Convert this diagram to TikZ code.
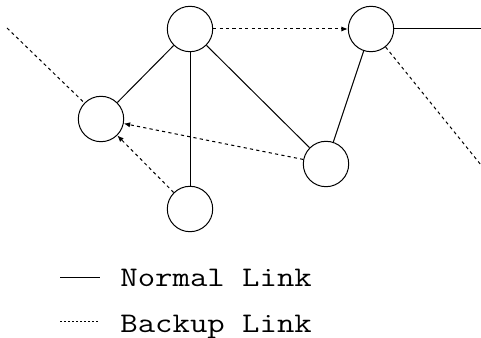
\documentclass[tikz,border=0pt]{standalone}
\usepackage{fontspec}
\newfontfamily\legendfont{Latin Modern Mono}[FakeStretch=1.19]
\usetikzlibrary{arrows.meta}

\begin{document}
\begin{tikzpicture}[
  x=0.5pt, y=0.5pt,
  router/.style={circle,draw,line width=0.5pt,minimum size=22.7pt,inner sep=0pt},
  normal/.style={line width=0.5pt},
  backup/.style={line width=0.5pt,dash pattern=on 1.6pt off 1.6pt},
  tip/.style={-{Latex[length=3.2pt,width=2.6pt]}},
  legend text/.style={anchor=base west,inner sep=0pt,font=\fontsize{14.2pt}{16pt}\legendfont}
]
  \useasboundingbox (0,0) rectangle (481,337);

  \node[router] (T) at (190,308) {};
  \node[router] (L) at (101,218) {};
  \node[router] (B) at (190,128) {};
  \node[router] (R) at (371,308) {};
  \node[router] (M) at (326,173) {};

  % links leaving the picture
  \coordinate (west) at (7,309);
  \coordinate (east) at (481,308);
  \coordinate (south east) at (481,172);

  % normal links
  \draw[normal] (L) -- (T);
  \draw[normal] (T) -- (B);
  \draw[normal] (T) -- (M);
  \draw[normal] (M) -- (R);
  \draw[normal] (R) -- (east);

  % backup links
  \draw[backup,tip] (T) -- (R);
  \draw[backup,tip] (M) -- (L);
  \draw[backup,tip] (B) -- (L);
  \draw[backup] (west) -- (L);
  \draw[backup] (R) -- (south east);

  % legend
  \coordinate (n1) at (60,60);
  \coordinate (n2) at (100,60);
  \coordinate (b1) at (60,16);
  \coordinate (b2) at (100,16);
  \draw[line width=0.4pt] (n1) -- (n2);
  \draw[line width=0.4pt,dash pattern=on 1pt off 1pt] (b1) -- (b2);
  \node[legend text] (normal label) at (120,51) {Normal Link};
  \node[legend text] (backup label) at (120,5) {Backup Link};
\end{tikzpicture}
\end{document}
